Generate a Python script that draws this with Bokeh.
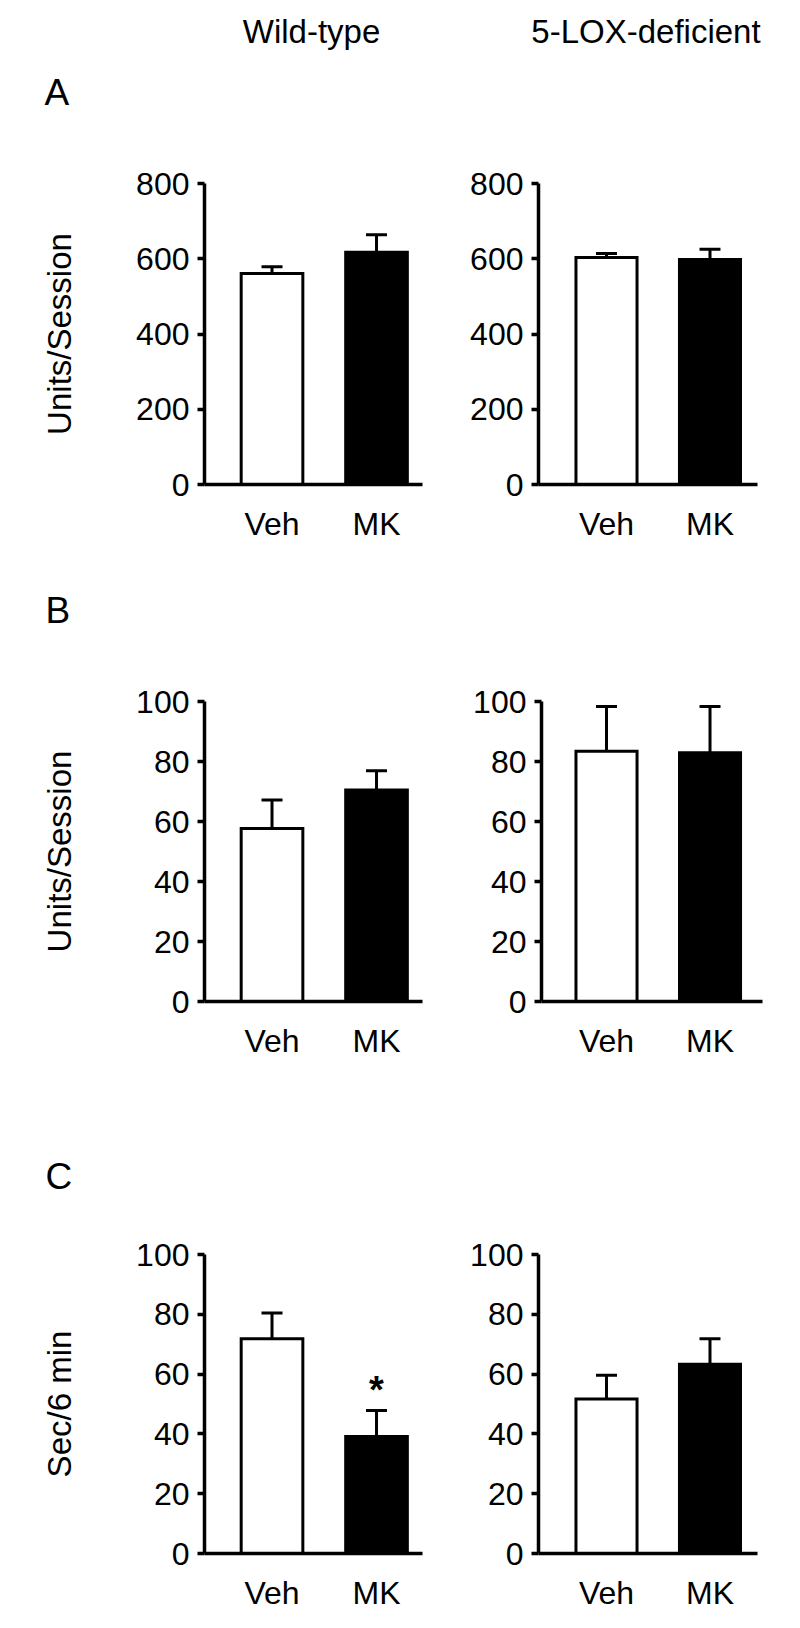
from bokeh.plotting import figure
from bokeh.models import Range1d, FixedTicker, Whisker, TeeHead, ColumnDataSource
from bokeh.layouts import column, row
from bokeh.embed import file_html
from bokeh.resources import INLINE
from bokeh.core.properties import value

# ---------------- data ----------------
groups = ["Wild-type", "5-LOX-deficient"]
treatments = ["Veh", "MK"]
bar_colors = ["white", "black"]
panel_letters = ["A", "B", "C"]
y_labels = ["Units/Session", "Units/Session", "Sec/6 min"]
y_max = [800, 100, 100]
y_ticks = [[0, 200, 400, 600, 800], [0, 20, 40, 60, 80, 100], [0, 20, 40, 60, 80, 100]]

a_wt_mean = [561, 617]
a_wt_sem = [18, 47]
a_lox_mean = [603, 598]
a_lox_sem = [11, 27]

b_wt_mean = [57.7, 70.5]
b_wt_sem = [9.5, 6.4]
b_lox_mean = [83.4, 82.9]
b_lox_sem = [14.9, 15.4]

c_wt_mean = [71.8, 39.1]
c_wt_sem = [8.6, 8.7]
c_lox_mean = [51.7, 63.3]
c_lox_sem = [7.9, 8.5]

significant_c_wt = ["", "*"]

FONT = "Liberation Sans"

# ---------------- layout geometry (page pixels) ----------------
PAGE_W = 800
COL_X0 = [0, 440]
COL_W = [440, 360]
HDR = [(0, 120), (560, 640), (1100, 1200)]       # header strips (y0, y1)
ROW = [(120, 560), (640, 1100), (1200, 1628)]    # panel rows (y0, y1)
ROW_FRAME = [(183, 484), (701, 1001), (1254, 1553)]
COL_FRAME = [[(204, 422), (538, 757)], [(204, 422), (541, 762)], [(204, 422), (538, 757)]]
COL_XR = [[(0.354, 2.44), (0.343, 2.459)], [(0.354, 2.44), (0.372, 2.507)], [(0.354, 2.44), (0.343, 2.459)]]


def make_header(r, texts, xs, ys, sizes, aligns):
    y0, y1 = HDR[r]
    h = y1 - y0
    p = figure(width=PAGE_W, height=h, x_range=Range1d(0, PAGE_W), y_range=Range1d(y1, y0),
               output_backend="svg", toolbar_location=None, x_axis_type=None, y_axis_type=None,
               min_border=0, min_border_left=0, min_border_right=0, min_border_top=0,
               min_border_bottom=0)
    p.outline_line_color = None
    p.grid.visible = False
    src = ColumnDataSource(dict(x=xs, y=ys, text=texts, size=sizes, align=aligns))
    p.text(x="x", y="y", text="text", source=src, text_font=value(FONT),
           text_font_size="size", text_align="align", text_baseline="middle",
           text_color="black")
    return p


def make_panel(r, c, mean, sem, ylabel=None):
    ft, fb = ROW_FRAME[r]
    fl, fr = COL_FRAME[r][c]
    xs, xe = COL_XR[r][c]
    fig_w = COL_W[c]
    fig_h = ROW[r][1] - ROW[r][0]
    bl = fl - COL_X0[c]
    br = fig_w - bl - (fr - fl)
    bt = ft - ROW[r][0]
    bb = fig_h - bt - (fb - ft)
    ymax = y_max[r]

    p = figure(width=fig_w, height=fig_h, x_range=Range1d(xs, xe), y_range=Range1d(0, ymax),
               output_backend="svg", toolbar_location=None,
               min_border_left=bl, min_border_right=br, min_border_top=bt, min_border_bottom=bb)
    p.outline_line_color = None
    p.grid.visible = False
    p.background_fill_color = "white"
    p.border_fill_color = "white"

    x = [i + 1 for i in range(len(treatments))]
    src = ColumnDataSource(dict(x=x, top=mean, upper=[m + s for m, s in zip(mean, sem)],
                                color=bar_colors, label=treatments))
    p.vbar(x="x", top="top", width=0.59, fill_color="color", line_color="black",
           line_width=3, line_join="miter", source=src)
    w = Whisker(base="x", lower="top", upper="upper", source=src, line_width=3,
                line_color="black",
                upper_head=TeeHead(size=21, line_width=3, line_color="black"),
                lower_head=None)
    p.add_layout(w)

    # x axis
    xa = p.xaxis[0]
    xa.ticker = FixedTicker(ticks=x)
    xa.major_label_overrides = {xi: t for xi, t in zip(x, treatments)}
    xa.major_tick_line_color = None
    xa.minor_tick_line_color = None
    xa.axis_line_width = 3.5
    xa.axis_line_color = "black"
    xa.major_label_standoff = 15
    xa.major_label_text_font = FONT
    xa.major_label_text_font_size = "32px"
    xa.major_label_text_color = "black"

    # y axis
    ya = p.yaxis[0]
    ya.ticker = FixedTicker(ticks=y_ticks[r])
    ya.major_tick_out = 7
    ya.major_tick_in = 0
    ya.major_tick_line_width = 3.5
    ya.major_tick_line_color = "black"
    ya.minor_tick_line_color = None
    ya.axis_line_width = 3.5
    ya.axis_line_color = "black"
    ya.major_label_standoff = 8
    ya.major_label_text_font = FONT
    ya.major_label_text_font_size = "32px"
    ya.major_label_text_color = "black"
    if ylabel:
        ya.axis_label = ylabel
        ya.axis_label_text_font = FONT
        ya.axis_label_text_font_size = "33px"
        ya.axis_label_text_font_style = "normal"
        ya.axis_label_text_color = "black"
        ya.axis_label_standoff = 55
    return p, src


pa1, _ = make_panel(0, 0, a_wt_mean, a_wt_sem, y_labels[0])
pa2, _ = make_panel(0, 1, a_lox_mean, a_lox_sem)
pb1, _ = make_panel(1, 0, b_wt_mean, b_wt_sem, y_labels[1])
pb2, _ = make_panel(1, 1, b_lox_mean, b_lox_sem)
pc1, src_c1 = make_panel(2, 0, c_wt_mean, c_wt_sem, y_labels[2])
pc2, _ = make_panel(2, 1, c_lox_mean, c_lox_sem)

# column headers and panel letters
hA = make_header(0, [groups[0], groups[1], panel_letters[0]], [311, 645.5, 44], [31, 31, 92],
                 ["33px", "33px", "37px"], ["center", "center", "left"])
hB = make_header(1, [panel_letters[1]], [45], [609.5], ["37px"], ["left"])
hC = make_header(2, [panel_letters[2]], [45], [1176], ["37px"], ["left"])

# significance marker
src_c1.data["sig"] = significant_c_wt
pc1.text(x="x", y="upper", text="sig", source=src_c1, text_align="center",
         text_baseline="alphabetic", y_offset=-21, text_font=value(FONT),
         text_font_size="38px", text_font_style="bold", text_color="black")

layout = column(hA, row(pa1, pa2), hB, row(pb1, pb2), hC, row(pc1, pc2))

open("out.html", "w").write(file_html(layout, INLINE))
